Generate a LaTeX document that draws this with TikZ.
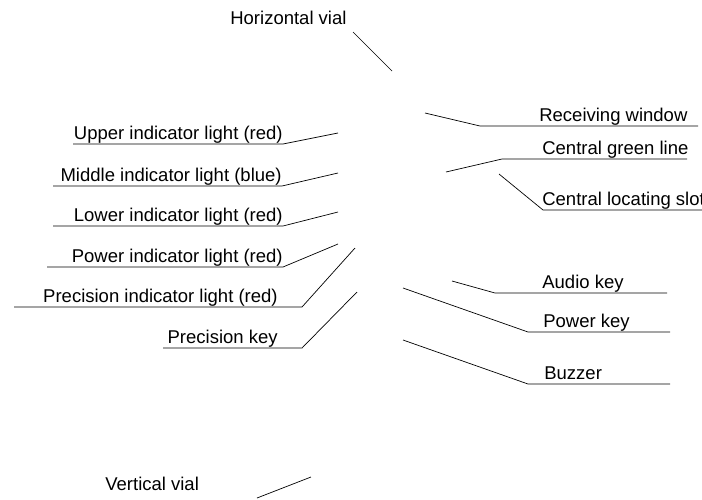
\documentclass[tikz,border=0pt]{standalone}
\usepackage{fontspec}
\setmainfont{Liberation Sans}
\usetikzlibrary{calc}

\begin{document}
\begin{tikzpicture}[x=1pt,y=-1pt,line width=0.7pt,
  lbl/.style={inner sep=0pt,font=\fontsize{18.5}{22}\selectfont}]
\useasboundingbox (0,0) rectangle (702,499);

% labels on the left: name/text/text end/line start/line end/line y/tip
\foreach \n/\txt/\e/\xa/\xb/\y/\tx/\ty in {
  up/{Upper indicator light (red)}/283/73/283/144/338/133,
  mid/{Middle indicator light (blue)}/282/53/282/186/338/173,
  low/{Lower indicator light (red)}/283/53/283/226/338/212,
  pwr/{Power indicator light (red)}/283/47/283/267/338/244,
  prec/{Precision indicator light (red)}/278/14/302/307/355/248,
  pkey/{Precision key}/278/163/302/348/357/292}{
  \coordinate (\n-l) at (\xa,\y);
  \coordinate (\n-r) at (\xb,\y);
  \coordinate (\n-t) at (\tx,\ty);
  \node[lbl,anchor=base east] (\n) at (\e,\y-5) {\txt};
  \draw (\n-l) -- (\n-r) -- (\n-t);
}

% labels on the right: name/text/text start/line start/line end/line y/tip
\foreach \n/\txt/\s/\xa/\xb/\y/\tx/\ty in {
  rw/{Receiving window}/539/480/698/126/425/113,
  cg/{Central green line}/542/502/687/159/446/172,
  cls/{Central locating slot}/542/543/710/210/499/174,
  aud/{Audio key}/542/495/667/293/452/281,
  pk/{Power key}/543/528/670/332/403/288,
  bz/{Buzzer}/544/528/670/384/403/340}{
  \coordinate (\n-l) at (\xa,\y);
  \coordinate (\n-r) at (\xb,\y);
  \coordinate (\n-t) at (\tx,\ty);
  \node[lbl,anchor=base west] (\n) at (\s,\y-5) {\txt};
  \draw (\n-t) -- (\n-l) -- (\n-r);
}

% the two vials
\node[lbl,anchor=base west] (hv) at (230,24) {Horizontal vial};
\coordinate (hv-a) at (353,32);
\coordinate (hv-b) at (392,71);
\draw (hv-a) -- (hv-b);

\node[lbl,anchor=base west] (vv) at (105,490) {Vertical vial};
\coordinate (vv-a) at (257,498);
\coordinate (vv-b) at (311,477);
\draw (vv-a) -- (vv-b);
\end{tikzpicture}
\end{document}
